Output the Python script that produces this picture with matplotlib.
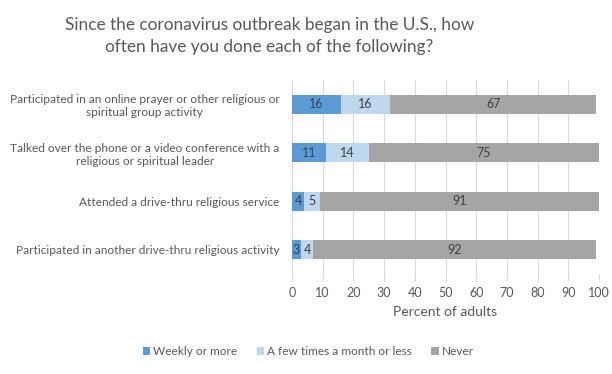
import matplotlib.pyplot as plt
import numpy as np

# data
activities = [
    "Participated in an online prayer or other religious or\nspiritual group activity",
    "Talked over the phone or a video conference with a\nreligious or spiritual leader",
    "Attended a drive-thru religious service",
    "Participated in another drive-thru religious activity",
]
weekly = [16, 11, 4, 3]
monthly = [16, 14, 5, 4]
never = [67, 75, 91, 92]
series_names = ["Weekly or more", "A few times a month or less", "Never"]
colors = ["#5b9bd5", "#bdd7ee", "#a5a5a5"]

plt.rcParams['font.family'] = ['Lato', 'DejaVu Sans']
txt = "#595959"

fig = plt.figure(figsize=(6.12, 3.74), dpi=100)
ax = fig.add_axes([0.477, 0.267, 0.502, 0.519])

y = np.arange(len(activities))
left = np.zeros(len(activities))
for vals, name, col in zip([weekly, monthly, never], series_names, colors):
    bars = ax.barh(y, vals, left=left, height=0.39, color=col, label=name, zorder=3)
    for b, v in zip(bars, vals):
        ax.text(b.get_x() + b.get_width() / 2, b.get_y() + b.get_height() / 2, str(v),
                ha='center', va='center', fontsize=9, color="#404040", zorder=4)
    left += np.array(vals)

ax.set_xlim(0, 100)
ax.set_ylim(3.5, -0.5)
ax.set_xticks(range(0, 101, 10))
ax.set_yticks(y)
ax.set_yticklabels(activities, fontsize=8.6, color=txt, multialignment='center')
ax.tick_params(axis='y', length=0, pad=9)
ax.tick_params(axis='x', colors="#d9d9d9", labelcolor=txt, labelsize=9, length=5, pad=4)
ax.grid(axis='x', color="#d9d9d9", linewidth=0.8, zorder=0)
for s in ax.spines.values():
    s.set_visible(False)
ax.set_xlabel("Percent of adults", fontsize=10, color=txt, labelpad=5)

fig.suptitle("Since the coronavirus outbreak began in the U.S., how\noften have you done each of the following?",
             fontsize=12.4, color=txt, x=0.44, y=0.955, linespacing=1.45)

fig.legend(loc='center', bbox_to_anchor=(0.504, 0.06), ncol=3, frameon=False, fontsize=8.6,
           handlelength=0.6, handleheight=0.6, handletextpad=0.3, columnspacing=1.6,
           labelcolor=txt)

fig.savefig("out.png", dpi=100)
